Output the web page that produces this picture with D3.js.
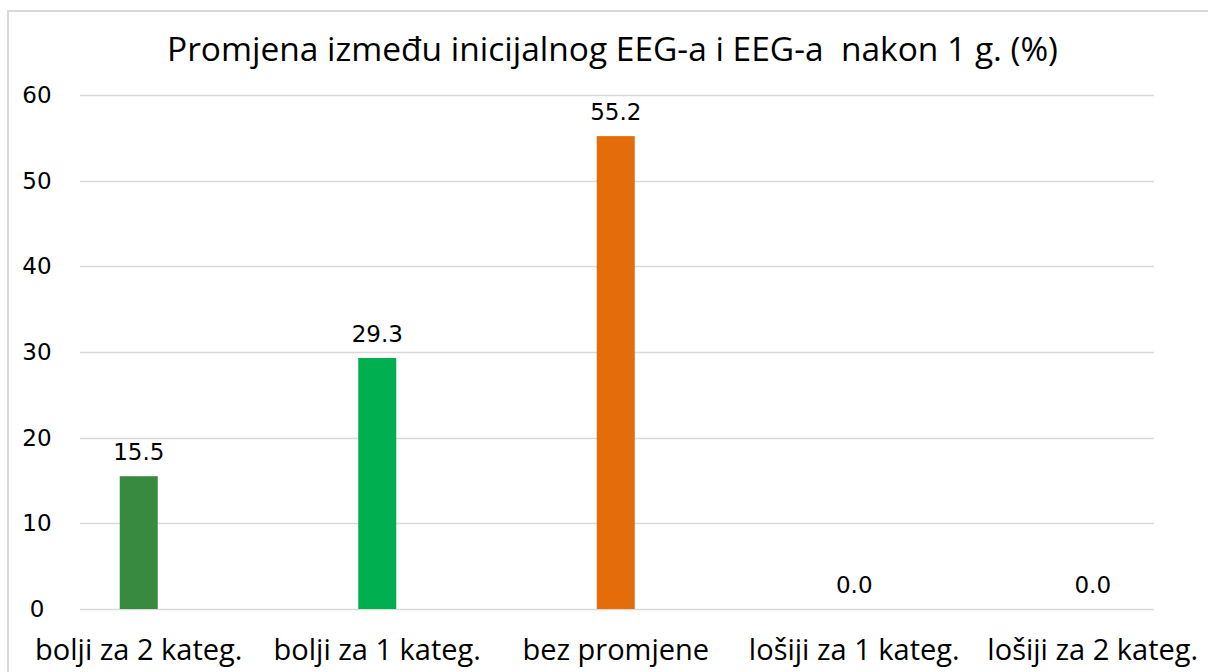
<!DOCTYPE html>
<html><head><meta charset="utf-8">
<script src="https://cdn.jsdelivr.net/npm/d3@7"></script>
<style>body{margin:0;background:#fff}svg{display:block}</style>
</head><body>
<svg id="c" width="1208" height="672"></svg>
<script>
const title = "Promjena između inicijalnog EEG-a i EEG-a  nakon 1 g. (%)";
const categories = ["bolji za 2 kateg.", "bolji za 1 kateg.", "bez promjene", "lošiji za 1 kateg.", "lošiji za 2 kateg."];
const values = [15.5, 29.3, 55.2, 0.0, 0.0];
const colors = ["#378A3F", "#00B050", "#E46C0A", "#4472C4", "#A5A5A5"];
const yTicks = [0, 10, 20, 30, 40, 50, 60];

const svg = d3.select("#c");
// outer frame (top and left edges visible)
svg.append("path").attr("d","M8,672 V11 H1208").attr("fill","none").attr("stroke","#D9D9D9").attr("stroke-width",2);

const y = d3.scaleLinear().domain([0,60]).range([609,95]);
const x = d3.scaleBand().domain(categories).range([19.5,1212]);
const gridX0 = 80, gridX1 = 1154;

// gridlines
svg.append("g").selectAll("line").data(yTicks).join("line")
  .attr("x1",gridX0).attr("x2",gridX1)
  .attr("y1",d=>Math.round(y(d))+0.5).attr("y2",d=>Math.round(y(d))+0.5)
  .attr("stroke","#D9D9D9").attr("stroke-width",1.5);

// y tick labels
svg.append("g").selectAll("text").data(yTicks).join("text")
  .attr("x",37).attr("y",d=>y(d)+8)
  .attr("text-anchor","middle")
  .attr("font-family","DejaVu Sans, sans-serif").attr("font-size",23)
  .attr("fill","#000").text(d=>d);

const bw = 38;
svg.append("g").selectAll("rect").data(values).join("rect")
  .attr("x",(d,i)=>x(categories[i])+x.bandwidth()/2-bw/2)
  .attr("width",bw)
  .attr("y",d=>y(d)).attr("height",d=>y(0)-y(d))
  .attr("fill",(d,i)=>colors[i]);

// data labels
svg.append("g").selectAll("text").data(values).join("text")
  .attr("x",(d,i)=>x(categories[i])+x.bandwidth()/2)
  .attr("y",d=>y(d)-16)
  .attr("text-anchor","middle")
  .attr("font-family","DejaVu Sans, sans-serif").attr("font-size",23)
  .attr("fill","#000").text(d=>d.toFixed(1));

// category labels
svg.append("g").selectAll("text").data(categories).join("text")
  .attr("x",d=>x(d)+x.bandwidth()/2)
  .attr("y",660)
  .attr("text-anchor","middle")
  .attr("font-family","Open Sans, sans-serif").attr("font-size",29)
  .attr("fill","#000").text(d=>d);

// title
svg.append("text").attr("x",612.5).attr("y",61).attr("text-anchor","middle")
  .attr("font-family","Open Sans, sans-serif").attr("font-size",32)
  .style("white-space","pre")
  .attr("textLength",891).attr("lengthAdjust","spacingAndGlyphs")
  .attr("fill","#000").text(title);
</script>
</body></html>
